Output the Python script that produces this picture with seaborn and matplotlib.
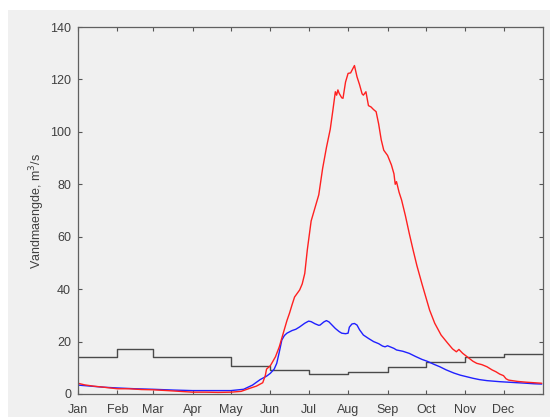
import matplotlib
matplotlib.use("Agg")
import matplotlib.pyplot as plt
import seaborn as sns
import pandas as pd
from matplotlib.patches import Rectangle

# ---- data ----
month_labels = ["Jan", "Feb", "Mar", "Apr", "May", "Jun", "Jul", "Aug", "Sep", "Oct", "Nov", "Dec"]
month_starts = [0, 31, 59, 90, 120, 151, 181, 212, 243, 273, 304, 334]

step_days = [0, 31, 59, 90, 120, 151, 181, 212, 243, 273, 304, 334, 365]
step_vals = [14.0, 17.2, 14.0, 14.0, 10.7, 9.3, 7.5, 8.3, 10.3, 12.2, 14.1, 15.1, 15.1]

red_days = [0, 5, 12, 20, 31, 40, 50, 59, 70, 80, 90, 100, 110, 120, 128, 135, 140, 145,
            147, 148, 151, 155, 158, 161, 164, 166, 168, 170, 174, 176, 178, 180, 183, 186,
            189, 192, 195, 198, 200, 202, 203, 204, 205, 207, 208, 210, 212, 214, 217, 219,
            221, 223, 224, 226, 228, 230, 232, 234, 236, 238, 240, 243, 246, 248, 249, 250,
            252, 254, 257, 260, 263, 266, 270, 273, 276, 280, 285, 290, 294, 297, 299, 302,
            306, 310, 313, 317, 321, 325, 328, 331, 334, 336, 338, 345, 352, 358, 364]
red_vals = [4.1, 3.5, 3.0, 2.6, 2.0, 2.0, 1.7, 1.6, 1.3, 1.0, 0.7, 0.7, 0.6, 0.7, 1.0, 2.2, 3.0, 4.3,
            7.0, 9.5, 10.8, 14.2, 18.0, 23.0, 28.0, 30.8, 34.0, 37.0, 39.7, 42.0, 46.0, 55.0, 66.0, 71.0,
            76.0, 86.0, 94.0, 101.0, 108.0, 115.3, 114.0, 116.0, 114.7, 113.0, 112.8, 119.0, 122.3, 122.5, 125.3, 121.0,
            118.0, 114.5, 114.0, 115.3, 110.0, 109.5, 108.5, 107.7, 103.0, 97.0, 93.0, 91.0, 87.4, 84.0, 80.0, 81.0,
            77.0, 74.0, 68.0, 61.3, 55.0, 49.0, 42.0, 37.0, 32.0, 27.0, 22.5, 19.5, 17.2, 16.1, 17.0, 15.5,
            14.0, 12.5, 11.7, 11.2, 10.4, 9.2, 8.5, 7.6, 7.0, 5.8, 5.3, 4.8, 4.5, 4.3, 4.1]

blue_days = [0, 10, 20, 31, 45, 59, 75, 90, 105, 120, 130, 137, 143, 148, 151, 154, 156, 158,
             160, 162, 164, 168, 171, 174, 178, 181, 183, 186, 189, 190, 193, 195, 197, 200,
             202, 205, 207, 210, 212, 213, 215, 217, 219, 221, 224, 228, 232, 236, 239, 241,
             243, 245, 248, 250, 255, 260, 265, 270, 274, 280, 284, 289, 295, 300, 305, 310,
             315, 321, 326, 331, 338, 345, 352, 358, 364]
blue_vals = [3.4, 3.0, 2.6, 2.3, 2.0, 1.8, 1.5, 1.3, 1.3, 1.3, 1.8, 3.4, 5.5, 6.8, 7.9, 9.5, 11.7, 16.0,
             20.6, 22.3, 23.2, 24.2, 24.7, 25.6, 27.0, 27.8, 27.6, 26.8, 26.2, 26.3, 27.5, 28.0, 27.5, 26.0,
             25.0, 23.8, 23.2, 23.0, 23.2, 25.5, 26.7, 26.9, 26.3, 24.5, 22.5, 21.2, 20.0, 19.2, 18.3, 18.0,
             18.4, 18.0, 17.4, 16.8, 16.3, 15.5, 14.3, 13.2, 12.5, 11.2, 10.4, 9.2, 8.0, 7.2, 6.6, 6.0,
             5.5, 5.1, 4.9, 4.7, 4.5, 4.3, 4.1, 3.9, 3.8]

y_ticks = [0, 20, 40, 60, 80, 100, 120, 140]

# ---- style ----
bg = "#f0f0f0"
sns.set_style("ticks")
plt.rcParams["font.family"] = ["Liberation Sans", "DejaVu Sans"]

fig = plt.figure(figsize=(5.5, 4.17), dpi=100, facecolor="white")
fig.patches.append(Rectangle((8 / 550, 0), 1 - 8 / 550, 1 - 10 / 417,
                             transform=fig.transFigure, facecolor=bg,
                             edgecolor="none", zorder=-10))
ax = fig.add_axes([78 / 550, (417 - 394) / 417, (543 - 78) / 550, (394 - 27) / 417])
ax.set_facecolor(bg)

df_step = pd.DataFrame({"day": step_days, "q": step_vals})
df_red = pd.DataFrame({"day": red_days, "q": red_vals})
df_blue = pd.DataFrame({"day": blue_days, "q": blue_vals})

sns.lineplot(data=df_step, x="day", y="q", ax=ax, color="#4a4a4a", lw=1.0,
             drawstyle="steps-post", estimator=None)
sns.lineplot(data=df_blue, x="day", y="q", ax=ax, color="#2020ff", lw=1.0, estimator=None)
sns.lineplot(data=df_red, x="day", y="q", ax=ax, color="#ff2020", lw=1.0, estimator=None)

ax.set_xlim(0, 365)
ax.set_ylim(0, 140)
ax.set_xticks(month_starts)
ax.set_xticklabels(month_labels)
ax.set_yticks(y_ticks)
ax.set_xlabel("")
ax.set_ylabel("Vandmaengde, m$^3$/s", fontsize=9, color="#404040", labelpad=2)

ax.tick_params(axis="both", direction="in", length=3, width=0.8, color="#555555",
               labelsize=9, labelcolor="#404040", top=True, right=True)
ax.tick_params(axis="x", pad=7)
ax.tick_params(axis="y", pad=5)
for s in ax.spines.values():
    s.set_visible(True)
    s.set_color("#606060")
    s.set_linewidth(0.9)

fig.savefig("out.png", dpi=100, facecolor="white")
